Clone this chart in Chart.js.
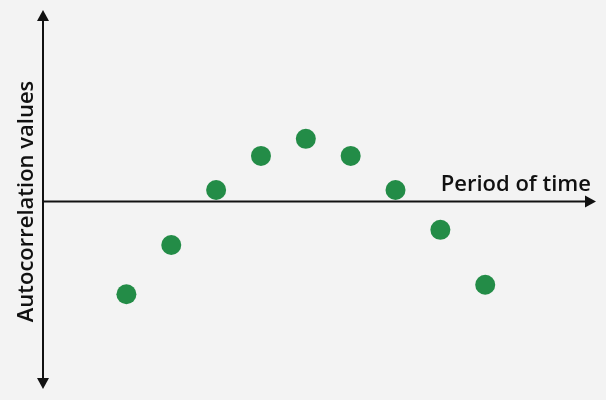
<!DOCTYPE html>
<html>
<head>
<meta charset="utf-8">
<script src="https://cdn.jsdelivr.net/npm/chart.js@4/dist/chart.umd.min.js"></script>
<style>
  html, body { margin: 0; padding: 0; background: #f3f3f3; }
  #wrap { width: 606px; height: 400px; }
</style>
</head>
<body>
<div id="wrap"><canvas id="acfChart" width="606" height="400"></canvas></div>
<script>
// lags (period of time) and autocorrelation values
const lags = [1, 2, 3, 4, 5, 6, 7, 8, 9];
const acfValues = [-0.49, -0.23, 0.06, 0.24, 0.33, 0.24, 0.06, -0.15, -0.44];
const xTitle = "Period of time";
const yTitle = "Autocorrelation values";

const pointColor = "#238c47";
const inkColor = "#111111";
const labelFont = "600 22px 'Open Sans', 'Noto Sans', sans-serif";

// draws the two arrowed axes and their labels
const arrowAxes = {
    id: "arrowAxes",
    beforeDatasetsDraw(chart) {
        const { ctx, chartArea, scales } = chart;
        const x0 = chartArea.left;
        const y0 = scales.y.getPixelForValue(0);
        const head = 6;
        ctx.save();
        ctx.strokeStyle = inkColor;
        ctx.fillStyle = inkColor;
        ctx.lineWidth = 2;

        // vertical axis
        ctx.beginPath();
        ctx.moveTo(x0, chartArea.top + 8);
        ctx.lineTo(x0, chartArea.bottom - 8);
        ctx.stroke();
        ctx.beginPath();
        ctx.moveTo(x0, chartArea.top);
        ctx.lineTo(x0 - head, chartArea.top + 11);
        ctx.lineTo(x0 + head, chartArea.top + 11);
        ctx.closePath();
        ctx.fill();
        ctx.beginPath();
        ctx.moveTo(x0, chartArea.bottom);
        ctx.lineTo(x0 - head, chartArea.bottom - 11);
        ctx.lineTo(x0 + head, chartArea.bottom - 11);
        ctx.closePath();
        ctx.fill();

        // horizontal axis
        ctx.beginPath();
        ctx.moveTo(x0, y0);
        ctx.lineTo(chartArea.right - 8, y0);
        ctx.stroke();
        ctx.beginPath();
        ctx.moveTo(chartArea.right, y0);
        ctx.lineTo(chartArea.right - 11, y0 - head);
        ctx.lineTo(chartArea.right - 11, y0 + head);
        ctx.closePath();
        ctx.fill();

        // labels
        ctx.font = labelFont;
        ctx.textAlign = "right";
        ctx.textBaseline = "alphabetic";
        ctx.fillText(xTitle, chartArea.right - 5, y0 - 10);

        ctx.translate(x0 - 10, (chartArea.top + chartArea.bottom) / 2 + 2);
        ctx.rotate(-Math.PI / 2);
        ctx.textAlign = "center";
        ctx.fillText(yTitle, 0, 0);
        ctx.restore();
    }
};

const ctx = document.getElementById("acfChart").getContext("2d");
const acfChart = new Chart(ctx, {
    type: "scatter",
    data: {
        datasets: [{
            label: yTitle,
            data: lags.map((lag, i) => ({ x: lag, y: acfValues[i] })),
            backgroundColor: pointColor,
            borderColor: pointColor,
            pointRadius: 10,
            pointHoverRadius: 10,
            borderWidth: 0
        }]
    },
    options: {
        responsive: false,
        animation: false,
        clip: false,
        layout: { padding: { left: 43, right: 8, top: 10, bottom: 11 } },
        plugins: {
            legend: { display: false },
            tooltip: { enabled: false }
        },
        scales: {
            x: { type: "linear", display: false, min: -0.86, max: 11.47 },
            y: { type: "linear", display: false, min: -0.99, max: 1.01 }
        }
    },
    plugins: [arrowAxes]
});
</script>
</body>
</html>
